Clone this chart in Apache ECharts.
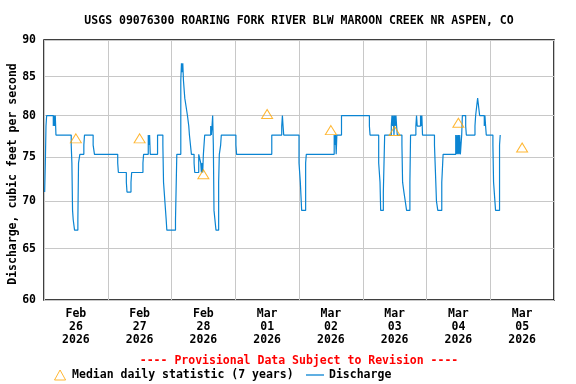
<!DOCTYPE html>
<html><head><meta charset="utf-8">
<script src="https://cdn.jsdelivr.net/npm/echarts@6/dist/echarts.min.js"></script>
<style>html,body{margin:0;padding:0;background:#fff}#c{width:576px;height:384px}</style>
</head><body><div id="c"></div>
<script>
const titleText = 'USGS 09076300 ROARING FORK RIVER BLW MAROON CREEK NR ASPEN, CO';
const noteText = '---- Provisional Data Subject to Revision ----';
const yTicks = [60, 65, 70, 75, 80, 85, 90];
// x axis: hours since 2026-02-26 00:00
const dayLabels = ['Feb\n26\n2026', 'Feb\n27\n2026', 'Feb\n28\n2026', 'Mar\n01\n2026',
                   'Mar\n02\n2026', 'Mar\n03\n2026', 'Mar\n04\n2026', 'Mar\n05\n2026'];
const dayNoonHours = [12, 36, 60, 84, 108, 132, 156, 180];
// Discharge (cfs), value holds from each time until the next one
const hours = [
  0.25, 0.5, 0.75, 1.0, 3.5, 3.75, 4.0, 4.25, 4.5, 10.25, 10.5, 10.75, 11.0, 11.5, 12.75, 13.0, 13.5, 15.0, 15.25, 18.5, 19.0,
  27.75, 28.0, 31.0, 31.25, 32.75, 33.0, 37.25, 37.5, 39.25, 39.5, 39.75, 40.0, 42.75, 44.75, 45.0, 45.5, 46.0, 46.25,
  49.5, 50.0, 51.5, 51.75, 52.0, 52.25, 52.5, 53.0, 53.5, 54.0, 54.5, 54.75, 55.5, 56.5, 56.75, 58.25, 59.0, 59.25, 59.5, 59.75,
  60.0, 60.5, 62.75, 63.0, 63.25, 63.5, 63.75, 64.0, 64.75, 65.75, 66.0, 66.5, 66.75, 72.25, 72.5,
  85.75, 89.5, 89.75, 90.0, 90.25,
  96.0, 96.5, 97.0, 98.5, 98.75, 109.25, 109.5, 109.75, 110.0, 110.25, 112.0,
  122.5, 122.75, 126.0, 126.5, 126.75, 127.75, 128.25, 130.75, 131.0, 131.25, 131.5, 131.75, 132.0, 132.25, 132.5, 132.75, 133.0,
  134.75, 135.0, 135.5, 136.0, 136.5, 137.75, 138.0, 140.0, 140.25, 140.5, 141.75, 142.0, 142.25, 142.5,
  147.0, 147.5, 147.75, 148.25, 149.75, 150.25, 155.0, 155.25, 155.5, 155.75, 156.0, 156.25, 156.5, 156.75, 157.25, 157.5,
  158.75, 159.0, 162.25, 162.5, 163.25, 164.0, 165.75, 166.0, 166.25, 166.5,
  169.0, 169.25, 169.75, 170.0, 171.5, 171.75
];
const cfs = [
  71.0, 74.3, 78.7, 80.0, 78.7, 80.0, 78.7, 80.0, 77.6, 76.4, 74.3, 69.0, 68.0, 66.9, 68.0, 74.3, 75.3, 76.4, 77.6, 76.4, 75.3,
  74.3, 73.2, 72.1, 71.0, 72.1, 73.2, 74.3, 75.3, 77.6, 76.4, 77.6, 75.3, 77.6, 76.4, 72.1, 70.0, 68.0, 66.9,
  68.0, 75.3, 84.5, 86.8, 85.6, 86.8, 84.5, 82.2, 81.1, 80.0, 78.7, 77.6, 75.3, 74.3, 73.2, 75.3, 74.3, 73.2, 74.3, 73.2,
  75.3, 77.6, 78.7, 77.6, 78.7, 80.0, 76.4, 69.0, 66.9, 72.1, 75.3, 76.4, 77.6, 76.4, 75.3,
  77.6, 78.7, 80.0, 78.7, 77.6,
  74.3, 72.1, 69.0, 74.3, 75.3, 77.6, 76.4, 77.6, 75.3, 77.6, 80.0,
  78.7, 77.6, 74.3, 72.1, 69.0, 71.0, 77.6, 78.7, 80.0, 78.7, 80.0, 77.6, 80.0, 78.7, 80.0, 78.7, 77.6,
  76.4, 72.1, 71.0, 70.0, 69.0, 72.1, 77.6, 78.7, 80.0, 78.7, 80.0, 78.7, 80.0, 77.6,
  76.4, 72.1, 70.0, 69.0, 72.1, 75.3, 77.6, 75.3, 77.6, 75.3, 77.6, 75.3, 77.6, 75.3, 77.6, 80.0,
  78.7, 77.6, 78.7, 80.0, 82.2, 80.0, 78.7, 80.0, 78.7, 77.6,
  76.4, 72.1, 70.0, 69.0, 76.4, 77.6
];
const medianHours = [12, 36, 60, 84, 108, 132, 156, 180];
const medianCfs = [77.2, 77.2, 73.0, 80.2, 78.2, 78.1, 79.1, 76.1];

const F = 'DejaVu Sans Mono';
const BLUE = '#0a84d2';
const ORANGE = '#FFA500';
const txt = {fontFamily: F, fontWeight: 'bold', fontSize: 11.5, color: '#000'};

const chart = echarts.init(document.getElementById('c'), null, {renderer: 'canvas'});
chart.setOption({
  animation: false,
  backgroundColor: '#fff',
  title: [
    {text: titleText, left: 299, textAlign: 'center', top: 15, padding: 0, textStyle: txt},
    {text: noteText, left: 299, textAlign: 'center', top: 355, padding: 0, textStyle: Object.assign({}, txt, {color: '#ff0000'})}
  ],
  legend: [
    {data: [{name: 'Median daily statistic (7 years)', icon: 'path://M5,0L10,9L0,9Z',
             itemStyle: {color: 'rgba(0,0,0,0)', borderColor: ORANGE, borderWidth: 1}}],
     left: 54, top: 369, padding: 0, itemWidth: 14, itemHeight: 10, selectedMode: false, textStyle: txt},
    {data: [{name: 'Discharge', icon: 'rect', itemStyle: {color: BLUE}}],
     left: 306, top: 369, padding: 0, itemWidth: 18, itemHeight: 1.3, selectedMode: false, textStyle: txt}
  ],
  grid: {left: 44, right: 22, top: 40, bottom: 84, containLabel: false, outerBoundsMode: 'none',
         show: true, borderColor: '#000', borderWidth: 1.5, backgroundColor: 'transparent'},
  xAxis: {
    type: 'value', min: 0, max: 192, interval: 24,
    axisLine: {show: false}, axisTick: {show: false},
    splitLine: {show: true, lineStyle: {color: '#c8c8c8', width: 1}},
    axisLabel: {customValues: dayNoonHours, margin: 8, lineHeight: 13,
      formatter: v => dayLabels[Math.round((v - 12) / 24)],
      fontFamily: F, fontWeight: 'bold', fontSize: 11.5, color: '#000'}
  },
  yAxis: {
    type: 'log', logBase: 10, min: 60, max: 90,
    name: 'Discharge, cubic feet per second', nameLocation: 'middle', nameGap: 25, nameMoveOverlap: false,
    nameTextStyle: Object.assign({}, txt, {padding: [0, 8, 0, 0]}),
    axisLine: {show: false}, axisTick: {show: false, customValues: yTicks},
    splitLine: {show: true, lineStyle: {color: '#c8c8c8', width: 1}},
    axisLabel: {customValues: yTicks, margin: 8, fontFamily: F, fontWeight: 'bold', fontSize: 11.5, color: '#000'}
  },
  series: [
    {name: 'Discharge', type: 'line', step: 'end', symbol: 'none',
     data: hours.map((h, i) => [h, cfs[i]]),
     lineStyle: {color: BLUE, width: 1.2}, itemStyle: {color: BLUE}, z: 3},
    {name: 'Median daily statistic (7 years)', type: 'scatter', symbol: 'triangle', symbolSize: [11, 9],
     data: medianHours.map((h, i) => [h, medianCfs[i]]),
     itemStyle: {color: 'rgba(0,0,0,0)', borderColor: ORANGE, borderWidth: 1}, z: 4}
  ]
});
</script>
</body></html>
